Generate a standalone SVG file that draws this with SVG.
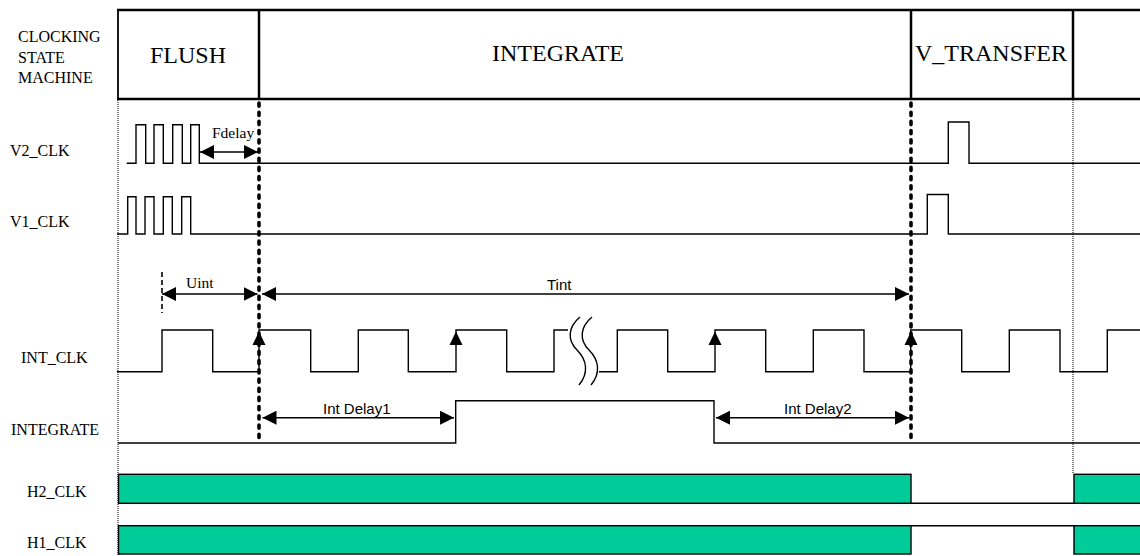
<svg xmlns="http://www.w3.org/2000/svg" width="1140" height="556" viewBox="0 0 1140 556">
<style>
.lbl{font-family:"Liberation Serif","Times New Roman",serif;font-size:16px;fill:#000}
.state{font-family:"Liberation Serif","Times New Roman",serif;font-size:24px;fill:#000}
.dsans{font-family:"Liberation Sans",Arial,sans-serif;font-size:15px;fill:#000}
.dserif{font-family:"Liberation Serif","Times New Roman",serif;font-size:15.5px;fill:#000}
.wave{fill:none;stroke:#000;stroke-width:1.4}
.hdr{fill:none;stroke:#000;stroke-width:2.5}
.thick{fill:none;stroke:#000;stroke-width:3.6;stroke-dasharray:3.2 6;stroke-linecap:round}
.dot{fill:none;stroke:#000;stroke-width:1;stroke-dasharray:1 1}
.arr{fill:none;stroke:#000;stroke-width:1.6;marker-start:url(#ah);marker-end:url(#ah)}
.bar{fill:#00CC99;stroke:#000;stroke-width:1.4}
.head{fill:#000}
</style>
<defs>
<marker id="ah" markerUnits="userSpaceOnUse" markerWidth="14" markerHeight="14" refX="14" refY="7" orient="auto-start-reverse">
<path d="M0,0 L14,7 L0,14 z" fill="#000"/>
</marker>
</defs>

<g id="labels">
<text class="lbl" x="18" y="41.5">CLOCKING</text>
<text class="lbl" x="18" y="62.5">STATE</text>
<text class="lbl" x="18" y="83">MACHINE</text>
<text class="lbl" x="10" y="155.5">V2_CLK</text>
<text class="lbl" x="10" y="226.5">V1_CLK</text>
<text class="lbl" x="21" y="363">INT_CLK</text>
<text class="lbl" x="11" y="435">INTEGRATE</text>
<text class="lbl" x="27" y="497">H2_CLK</text>
<text class="lbl" x="27" y="548">H1_CLK</text>
</g>

<g id="state-machine">
<line class="hdr" x1="117" y1="10" x2="1140" y2="10"/>
<line class="hdr" x1="117" y1="99" x2="1140" y2="99"/>
<line class="hdr" x1="118" y1="9" x2="118" y2="100" style="stroke-width:1.8"/>
<line class="hdr" x1="259" y1="9" x2="259" y2="100"/>
<line class="hdr" x1="911" y1="9" x2="911" y2="100"/>
<line class="hdr" x1="1073" y1="9" x2="1073" y2="100"/>
<text class="state" x="150" y="63">FLUSH</text>
<text class="state" x="558" y="61" text-anchor="middle">INTEGRATE</text>
<text class="state" x="915" y="61">V_TRANSFER</text>
</g>

<g id="guides">
<line class="dot" x1="118" y1="100" x2="118" y2="556"/>
<line class="dot" x1="1073" y1="100" x2="1073" y2="473"/>
<line class="thick" x1="259" y1="103" x2="259" y2="442"/>
<line class="thick" x1="911" y1="103" x2="911" y2="442"/>
</g>

<g id="v2_clk">
<path class="wave" d="M126.7,163.3 H136 V124.7 H145.7 V163.3 H154 V124.7 H163.3 V163.3 H172.7 V124.7 H182.3 V163.3 H190.7 V124.7 H199.3 V163.3 H948.3 V122 H969 V163.3 H1140"/>
</g>

<g id="v1_clk">
<path class="wave" d="M117,234 H127.7 V196.7 H136 V234 H145 V196.7 H154 V234 H163.3 V196.7 H172.3 V234 H181.7 V196.7 H190.7 V234 H927.3 V194.5 H948.3 V234 H1140"/>
</g>

<g id="int_clk">
<path class="wave" d="M117,371.7 H162 V330 H212.7 V371.7 H259 V330 H310.7 V371.7 H358.3 V330 H408.3 V371.7 H456 V330 H506.7 V371.7 H554 V330 H568"/>
<path class="wave" d="M599,371.7 H617.3 V330 H667.7 V371.7 H715 V330 H765.7 V371.7 H813.3 V330 H864 V371.7 H910.7 V330 H961.7 V371.7 H1009.3 V330 H1060 V371.7 H1107.3 V330 H1140"/>
<path class="wave" d="M580,317 C568,327 567,340 577,350 C587,360 589,373 579,385"/>
<path class="wave" d="M592,317 C580,327 579,340 589,350 C599,360 601,373 591,385"/>
<polygon class="head" points="259,331.5 265.5,345 252.5,345"/>
<polygon class="head" points="456,331.5 462.5,345 449.5,345"/>
<polygon class="head" points="715,331.5 721.5,345 708.5,345"/>
<polygon class="head" points="911,331.5 917.5,345 904.5,345"/>
</g>

<g id="integrate">
<path class="wave" d="M118,443 H455.7 V400.7 H714 V443 H1140"/>
</g>

<g id="h2_clk">
<rect class="bar" x="118.5" y="474.3" width="792.5" height="29"/>
<line class="wave" x1="911" y1="503.3" x2="1074" y2="503.3"/>
<rect class="bar" x="1074" y="474.3" width="70" height="29"/>
</g>

<g id="h1_clk">
<rect class="bar" x="118.5" y="525.7" width="792.5" height="28.3"/>
<line class="wave" x1="911" y1="525.7" x2="1074" y2="525.7"/>
<rect class="bar" x="1074" y="525.7" width="70" height="28.3"/>
</g>

<g id="connectors">
<line class="arr" x1="200" y1="152" x2="258" y2="152"/>
<line x1="162" y1="272" x2="162" y2="313" stroke="#000" stroke-width="1.6" stroke-dasharray="5 3"/>
<line class="arr" x1="162" y1="294" x2="257.5" y2="294"/>
<line class="arr" x1="262" y1="294" x2="909" y2="294"/>
<line class="arr" x1="262.5" y1="417.7" x2="454" y2="417.7"/>
<line class="arr" x1="716" y1="417.7" x2="909" y2="417.7"/>
<text class="dserif" x="212" y="138">Fdelay</text>
<text class="dserif" x="186" y="287.5">Uint</text>
<text class="dsans" x="547" y="290">Tint</text>
<text class="dsans" x="323" y="414">Int Delay1</text>
<text class="dsans" x="784" y="413.5">Int Delay2</text>
</g>
</svg>
